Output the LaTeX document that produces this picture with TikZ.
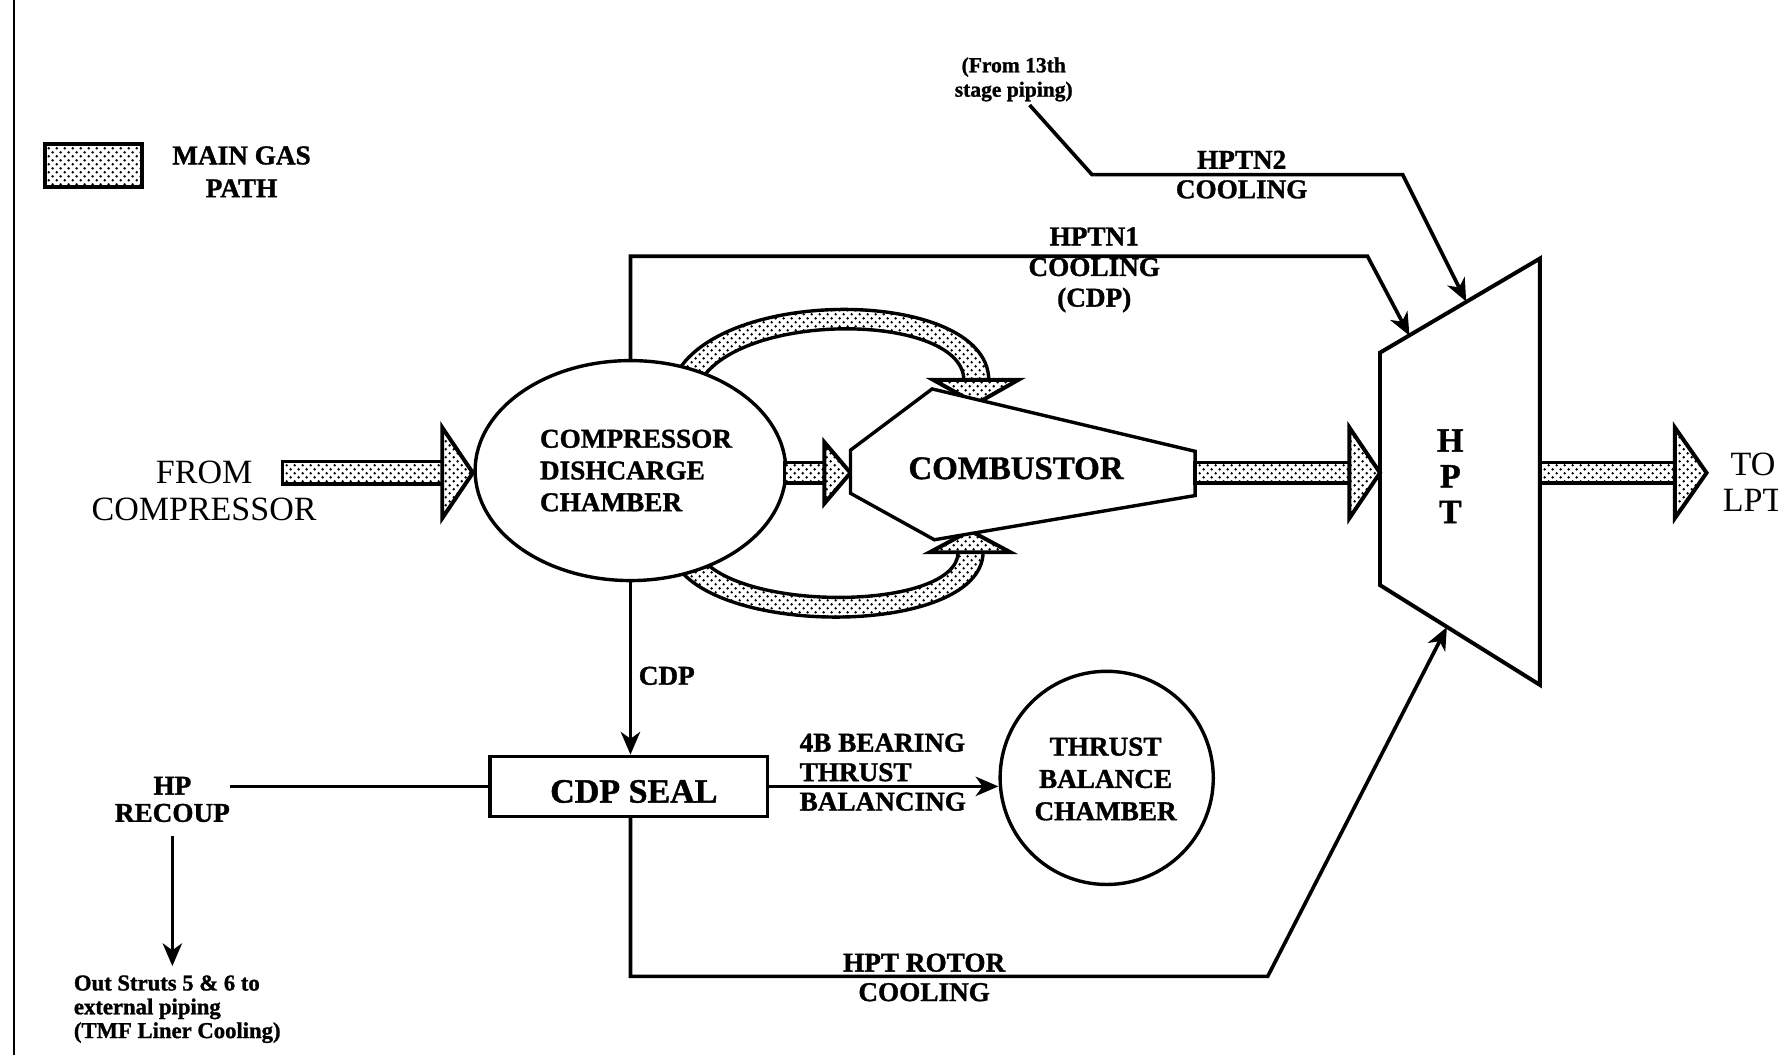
\documentclass[tikz,border=0pt]{standalone}
\usepackage{fontspec}
\setmainfont[BoldFeatures={FakeBold=1.2}]{Liberation Serif}
\usetikzlibrary{shapes.geometric, arrows.meta, patterns}

\pgfdeclarepatternformonly{gasdots}{\pgfpoint{0pt}{0pt}}{\pgfpoint{7pt}{7pt}}{\pgfpoint{7pt}{7pt}}{%
  \pgfpathcircle{\pgfpoint{1.5pt}{1.5pt}}{1.2pt}%
  \pgfpathcircle{\pgfpoint{5pt}{5pt}}{1.2pt}%
  \pgfusepath{fill}%
}

\tikzset{
  gas/.style={pattern=gasdots, preaction={fill=white}, draw=black, line width=3pt, line join=miter},
  shp/.style={draw=black, line width=3pt, fill=white, line join=miter},
  conn/.style={line width=3.2pt, line join=miter, -{Stealth[length=20pt,width=17pt,inset=6pt]}},
  blbl/.style={font=\bfseries\fontsize{24}{27}\selectfont, align=center, inner sep=0pt},
  rlbl/.style={font=\fontsize{30}{32}\selectfont, align=center, inner sep=0pt},
  slbl/.style={font=\bfseries\fontsize{19}{21.5}\selectfont, align=center, inner sep=0pt},
}

\begin{document}
\begin{tikzpicture}[x=1pt,y=-1pt]
\useasboundingbox (0,0) rectangle (1568,930);
\fill[white] (0,0) rectangle (1568,930);
\clip (0,0) rectangle (1568,930);

% frame line
\draw[line width=2pt] (12.5,0) -- (12.5,930);

% legend
\node[gas, rectangle, minimum width=85pt, minimum height=38pt, line width=3.5pt] (legend) at (82.5,146) {};
\node[blbl, font=\bfseries\fontsize{24}{29}\selectfont] (legendtxt) at (213,151.5) {MAIN GAS\\PATH};

% from compressor
\node[rlbl] (fromc) at (180,433) {FROM\\COMPRESSOR};
\draw[gas] (249,407) rectangle (390,427);
\draw[gas, line width=3.5pt] (390,377) -- (417,417) -- (390,457) -- cycle;

% bypass bands
\draw[gas] (591.4,342.2) .. controls (615.6,251) and (871,251) .. (872,335) -- (850,335) .. controls (849,273) and (632.4,273) .. (612.6,347.8) -- cycle;
\draw[gas, line width=3.5pt] (823,335) -- (898,335) -- (861,356) -- cycle;
\draw[gas] (591.5,488.4) .. controls (616,563) and (865.8,563) .. (867,487) -- (845,487) .. controls (844.2,541) and (632,541) .. (612.5,481.6) -- cycle;
\draw[gas, line width=3.5pt] (820,487) -- (891,487) -- (855.5,468) -- cycle;

% compressor discharge chamber
\node[shp, ellipse, minimum width=274pt, minimum height=194pt, inner sep=0pt] (cdc) at (556,415) {};
\node[blbl, align=left, anchor=west, font=\bfseries\fontsize{24}{28}\selectfont] (cdctxt) at (476,415) {COMPRESSOR\\DISHCARGE\\CHAMBER};

% arrow to combustor
\draw[gas] (692,408) rectangle (727,426);
\draw[gas, line width=3.5pt] (727,390) -- (750,417) -- (727,444) -- cycle;

% combustor
\draw[shp] (750,397) -- (822,343) -- (1054,398) -- (1054,437) -- (824,476) -- (750,435) -- cycle;
\node[blbl, font=\bfseries\fontsize{29}{32}\selectfont] (comb) at (896,413) {COMBUSTOR};

% HPT
\draw[shp, line width=3.5pt] (1217,311) -- (1358,228) -- (1358,604) -- (1217,516) -- cycle;
\node[blbl, font=\bfseries\fontsize{30}{31.5}\selectfont] (hpt) at (1279,420) {H\\P\\T};

% arrow combustor -> HPT
\draw[gas] (1054,408) rectangle (1190,426);
\draw[gas, line width=3.5pt] (1190,377) -- (1217,417) -- (1190,457) -- cycle;

% arrow HPT -> LPT
\draw[gas] (1358,408) rectangle (1477,426);
\draw[gas, line width=3.5pt] (1477,377) -- (1505,417) -- (1477,457) -- cycle;
\node[rlbl] (lpt) at (1546,425) {TO\\LPT};

% HPTN1 cooling
\coordinate (n1a) at (556,226);
\coordinate (n1b) at (1206,226);
\coordinate (n1t) at (1243,296);
\draw[conn] (cdc.north) -- (n1a) -- (n1b) -- (n1t);
\node[blbl] (n1lbl) at (965,238) {HPTN1\\COOLING\\(CDP)};

% HPTN2 cooling
\node[slbl] (from13) at (894,70) {(From 13th\\stage piping)};
\coordinate (n2a) at (963,154);
\coordinate (n2b) at (1237,154);
\coordinate (n2t) at (1293,266);
\draw[conn] ([xshift=14pt,yshift=-3pt]from13.south) -- (n2a) -- (n2b) -- (n2t);
\node[blbl, font=\bfseries\fontsize{24}{26}\selectfont] (n2lbl) at (1095,154) {HPTN2\\COOLING};

% CDP seal
\node[draw, line width=3pt, minimum width=245pt, minimum height=53pt, inner sep=0pt] (seal) at (554.5,693.5) {};
\node[blbl, font=\bfseries\fontsize{30}{32}\selectfont] (sealtxt) at (559,698) {CDP SEAL};
\draw[conn] (cdc.south) -- (cdc.south |- seal.north);
\node[blbl] (cdplbl) at (588,596) {CDP};

% thrust balance chamber
\node[draw, circle, line width=3pt, minimum size=188pt, inner sep=0pt] (tbc) at (976,686) {};
\node[blbl, font=\bfseries\fontsize{24}{28.5}\selectfont] (tbctxt) at (975,687) {THRUST\\BALANCE\\CHAMBER};
\draw[conn] (seal.east) -- (seal.east -| tbc.west);
\node[blbl, align=left, anchor=west, font=\bfseries\fontsize{24}{26}\selectfont] (tblbl) at (705,681) {4B BEARING\\THRUST\\BALANCING};

% HP recoup
\node[blbl, font=\bfseries\fontsize{24}{24}\selectfont] (hprc) at (152,705) {HP\\RECOUP};
\draw[line width=2.4pt] (hprc.east |- seal.west) -- (seal.west);
\coordinate (rectip) at (152,852);
\draw[conn] ([yshift=-12pt]hprc.south) -- (rectip);
\node[slbl, align=left, anchor=west, font=\bfseries\fontsize{20}{21}\selectfont] (outtxt) at (65,890) {Out Struts 5 \& 6 to\\external piping\\(TMF Liner Cooling)};

% HPT rotor cooling
\coordinate (r1) at (556,861);
\coordinate (r2) at (1118,861);
\coordinate (rt) at (1276,553);
\draw[conn] (cdc.south |- seal.south) -- (r1) -- (r2) -- (rt);
\node[blbl, font=\bfseries\fontsize{24}{26}\selectfont] (rotlbl) at (815,862) {HPT ROTOR\\COOLING};

\end{tikzpicture}
\end{document}
